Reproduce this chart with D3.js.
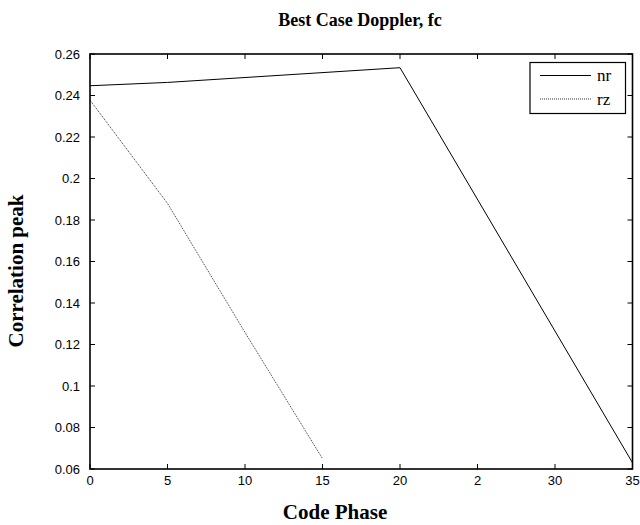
<!DOCTYPE html>
<html><head><meta charset="utf-8">
<script src="https://cdn.jsdelivr.net/npm/d3@7"></script>
<style>body{margin:0;background:#fff}</style>
</head><body>
<svg id="c" width="640" height="525"></svg>
<script>
const xTickValues = [0,5,10,15,20,25,30,35];
const xTickLabels = ["0","5","10","15","20","2","30","35"];
const yTickValues = [0.06,0.08,0.1,0.12,0.14,0.16,0.18,0.2,0.22,0.24,0.26];
const yTickLabels = ["0.06","0.08","0.1","0.12","0.14","0.16","0.18","0.2","0.22","0.24","0.26"];
const nrX = [0,5,20,35];
const nrY = [0.2447,0.2463,0.2534,0.0630];
const rzX = [0,5,10,15];
const rzY = [0.2378,0.1880,0.1258,0.0650];

const svg = d3.select("#c");
const L=90,R=632.5,T=54,B=469;
const x = d3.scaleLinear().domain([0,35]).range([L,R]);
const y = d3.scaleLinear().domain([0.06,0.26]).range([B,T]);

const g = svg.append("g");
const tl=5;
xTickValues.forEach(v=>{
  g.append("line").attr("x1",x(v)).attr("x2",x(v)).attr("y1",B).attr("y2",B-tl).attr("stroke","#000");
  g.append("line").attr("x1",x(v)).attr("x2",x(v)).attr("y1",T).attr("y2",T+tl).attr("stroke","#000");
});
yTickValues.forEach(v=>{
  g.append("line").attr("x1",L).attr("x2",L+tl).attr("y1",y(v)).attr("y2",y(v)).attr("stroke","#000");
  g.append("line").attr("x1",R).attr("x2",R-tl).attr("y1",y(v)).attr("y2",y(v)).attr("stroke","#000");
});
g.selectAll(".xl").data(xTickValues).enter().append("text")
  .attr("x",d=>x(d)).attr("y",B+16).attr("text-anchor","middle")
  .attr("font-family","Liberation Sans, Arial, sans-serif").attr("font-size",13)
  .text((d,i)=>xTickLabels[i]);
g.selectAll(".yl").data(yTickValues).enter().append("text")
  .attr("x",L-10).attr("y",d=>y(d)+4.5).attr("text-anchor","end")
  .attr("font-family","Liberation Sans, Arial, sans-serif").attr("font-size",13)
  .text((d,i)=>yTickLabels[i]);

const line = d3.line().x(d=>x(d[0])).y(d=>y(d[1]));
svg.append("path").datum(nrX.map((v,i)=>[v,nrY[i]])).attr("d",line)
  .attr("fill","none").attr("stroke","#000").attr("stroke-width",1);
svg.append("path").datum(rzX.map((v,i)=>[v,rzY[i]])).attr("d",line)
  .attr("fill","none").attr("stroke","#333").attr("stroke-width",1).attr("stroke-dasharray","1,1");

svg.append("rect").attr("x",L).attr("y",T).attr("width",R-L).attr("height",B-T)
  .attr("fill","none").attr("stroke","#000").attr("stroke-width",1.6);

const lg = svg.append("g");
lg.append("rect").attr("x",530).attr("y",62.5).attr("width",95.5).attr("height",51)
  .attr("fill","#fff").attr("stroke","#000").attr("stroke-width",1.2);
lg.append("line").attr("x1",540).attr("x2",591).attr("y1",75.5).attr("y2",75.5).attr("stroke","#000");
lg.append("line").attr("x1",540).attr("x2",591).attr("y1",99).attr("y2",99).attr("stroke","#333").attr("stroke-dasharray","1,1");
lg.append("text").attr("x",597).attr("y",81).attr("font-family","Liberation Serif, Times New Roman, serif").attr("font-size",17).text("nr");
lg.append("text").attr("x",597).attr("y",105).attr("font-family","Liberation Serif, Times New Roman, serif").attr("font-size",17).text("rz");

svg.append("text").attr("x",360).attr("y",26).attr("text-anchor","middle")
  .attr("font-family","Liberation Serif, Times New Roman, serif").attr("font-weight","bold").attr("font-size",18)
  .text("Best Case Doppler, fc");
svg.append("text").attr("x",335).attr("y",519).attr("text-anchor","middle")
  .attr("font-family","Liberation Serif, Times New Roman, serif").attr("font-weight","bold").attr("font-size",21)
  .text("Code Phase");
svg.append("text").attr("transform","translate(23,271) rotate(-90)").attr("text-anchor","middle")
  .attr("font-family","Liberation Serif, Times New Roman, serif").attr("font-weight","bold").attr("font-size",21)
  .text("Correlation peak");
</script>
</body></html>
